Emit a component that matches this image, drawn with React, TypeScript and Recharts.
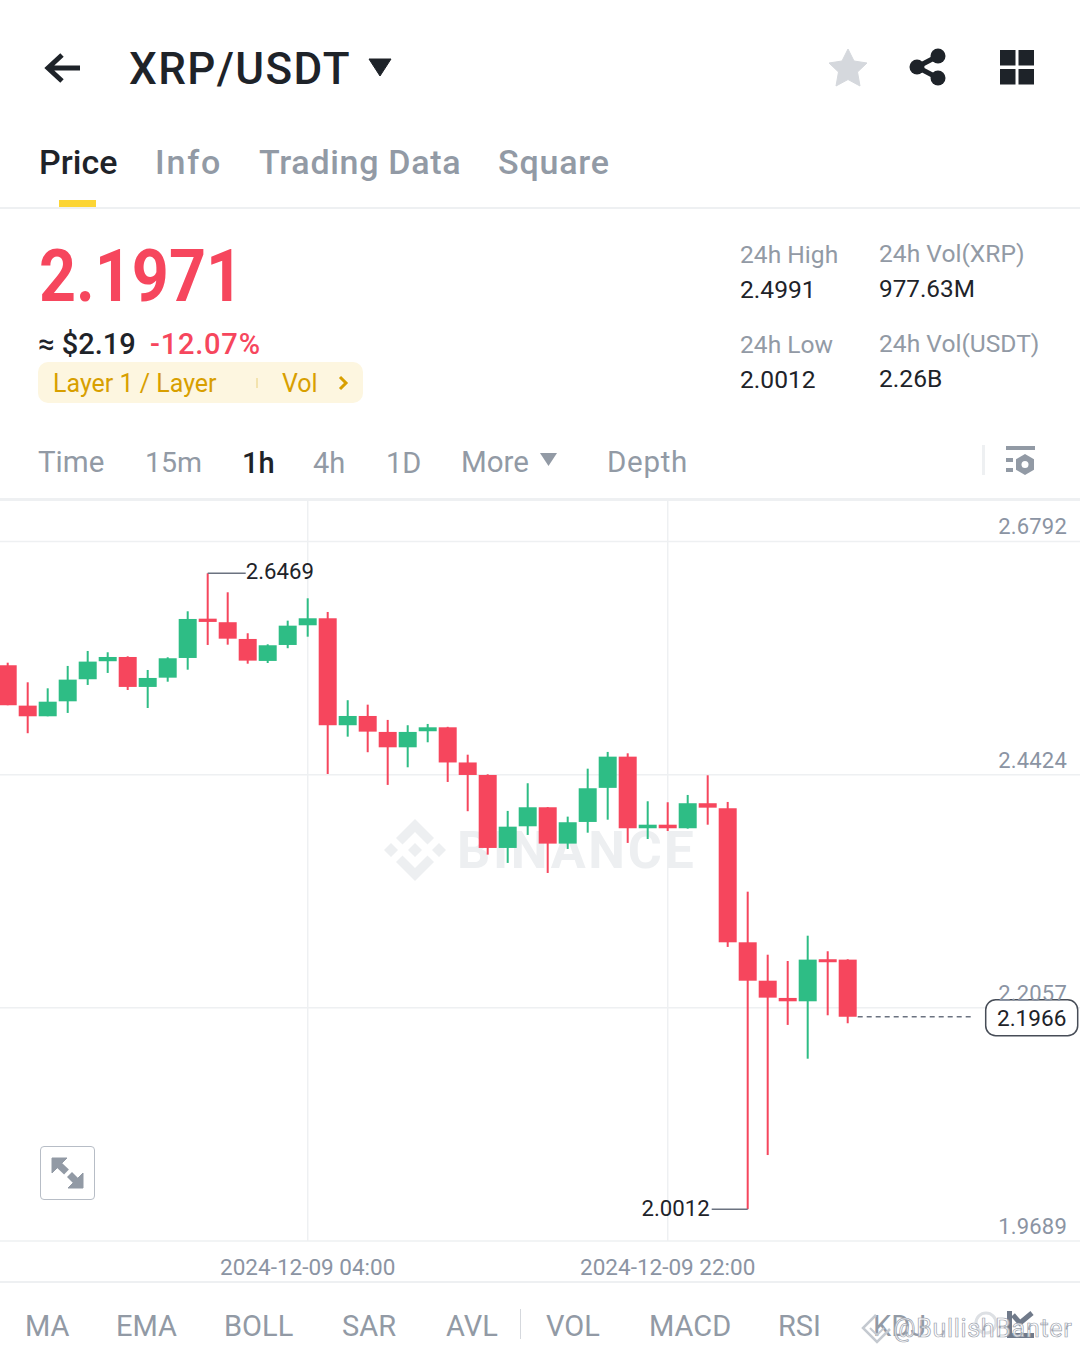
import React from "react";
import {
  ComposedChart,
  Bar,
  XAxis,
  YAxis,
  CartesianGrid,
  ReferenceLine,
  ReferenceDot,
} from "recharts";

// hourly candles
const opens = [
  2.5535, 2.5125, 2.5017, 2.5169, 2.5393, 2.5576, 2.5619, 2.5315, 2.5409, 2.5609, 2.6008,
  2.5972, 2.5802, 2.5579, 2.5741, 2.5941, 2.6012, 2.4926, 2.502, 2.4858, 2.4702, 2.4865,
  2.4905, 2.4548, 2.4421, 2.368, 2.39, 2.4093, 2.3724, 2.3944, 2.429, 2.4607, 2.388,
  2.3916, 2.388, 2.4134, 2.4083, 2.2722, 2.2332, 2.2157, 2.2123, 2.255, 2.2546,
];
const closes = [
  2.5129, 2.5017, 2.5165, 2.5389, 2.5572, 2.5619, 2.5315, 2.5406, 2.5606, 2.6005, 2.5975,
  2.5805, 2.5582, 2.5738, 2.5937, 2.6012, 2.4926, 2.502, 2.4861, 2.4702, 2.4858, 2.4905,
  2.4548, 2.4421, 2.368, 2.3896, 2.4093, 2.3724, 2.3941, 2.4286, 2.4607, 2.388, 2.3916,
  2.388, 2.4134, 2.4089, 2.2722, 2.2332, 2.216, 2.2123, 2.2546, 2.2522, 2.1966,
];
const highs = [
  2.5561, 2.5362, 2.5301, 2.5528, 2.568, 2.5667, 2.5626, 2.5487, 2.5616, 2.6083, 2.6469,
  2.6276, 2.586, 2.5748, 2.5988, 2.6215, 2.6076, 2.518, 2.5135, 2.498, 2.4926, 2.4939,
  2.491, 2.4627, 2.4428, 2.4056, 2.4337, 2.4095, 2.3998, 2.4485, 2.4655, 2.4641, 2.4154,
  2.4144, 2.4218, 2.4418, 2.4147, 2.3236, 2.2596, 2.2532, 2.2789, 2.2631, 2.255,
];
const lows = [
  2.5129, 2.4845, 2.5017, 2.5051, 2.5335, 2.5457, 2.5284, 2.5101, 2.5368, 2.549, 2.5741,
  2.5744, 2.5551, 2.5558, 2.5708, 2.5825, 2.4431, 2.481, 2.4652, 2.432, 2.4499, 2.4753,
  2.435, 2.4053, 2.3612, 2.3528, 2.3812, 2.3426, 2.367, 2.3835, 2.3967, 2.3731, 2.3771,
  2.3852, 2.3876, 2.3916, 2.2675, 2.0012, 2.0562, 2.1883, 2.154, 2.1981, 2.19,
];
const priceTicks = [1.9689, 2.2057, 2.4424, 2.6792];
const timeTicks = [15, 33];
const timeLabels: Record<number, string> = {
  15: "2024-12-09 04:00",
  33: "2024-12-09 22:00",
};
const indicators = [
  ["MA", 25],
  ["EMA", 116],
  ["BOLL", 224],
  ["SAR", 342],
  ["AVL", 446],
  ["VOL", 546],
  ["MACD", 649],
  ["RSI", 778],
  ["KDJ", 873],
] as const;

const HIGH_VALUE = 2.6469;
const LOW_VALUE = 2.0012;
const LAST_VALUE = 2.1966;

const candles = opens.map((open, i) => ({
  index: i,
  open,
  close: closes[i],
  high: highs[i],
  low: lows[i],
  range: [lows[i], highs[i]],
}));

const UP = "#2EBD85";
const DOWN = "#F6465D";
const DARK = "#1E2329";
const GRAY = "#929AA5";
const AXIS_GRAY = "#8B94A3";
const LINE = "#EEF0F2";
const FONT = "Roboto, sans-serif";

const Candle = (props: any) => {
  const { x, y, width, height, payload } = props;
  const top = Math.min(y, y + height);
  const h = Math.abs(height);
  const perUnit = h / (payload.high - payload.low);
  const color = payload.close >= payload.open ? UP : DOWN;
  const bodyTop = top + (payload.high - Math.max(payload.open, payload.close)) * perUnit;
  const bodyH = Math.max(Math.abs(payload.open - payload.close) * perUnit, 3);
  return (
    <g>
      <rect x={x + width / 2 - 1} y={top} width={2} height={h} fill={color} />
      <rect x={x} y={bodyTop} width={width} height={bodyH} fill={color} />
    </g>
  );
};

const PriceTick = (props: any) => (
  <text
    x={1067}
    y={props.y - 7}
    textAnchor="end"
    fontSize={22}
    fontFamily={FONT}
    fill={AXIS_GRAY}
    letterSpacing={0.2}
  >
    {props.payload.value}
  </text>
);

const TimeTick = (props: any) => (
  <text
    x={props.x}
    y={props.y + 26}
    textAnchor="middle"
    fontSize={22.5}
    fontFamily={FONT}
    fill={AXIS_GRAY}
  >
    {timeLabels[props.payload.value]}
  </text>
);

const Txt = ({ x, y, size, color = GRAY, weight = 400, spacing = 0, stretch = 1, children }: any) => (
  <div
    style={{
      position: "absolute",
      left: x,
      top: y,
      transform: `translateY(-50%) scaleX(${stretch})`,
      transformOrigin: "left center",
      fontSize: size,
      color,
      fontWeight: weight,
      letterSpacing: spacing,
      lineHeight: 1,
      whiteSpace: "nowrap",
    }}
  >
    {children}
  </div>
);

const Icon = ({ x, y, w, h, children }: any) => (
  <svg
    width={w}
    height={h}
    viewBox={`0 0 ${w} ${h}`}
    style={{ position: "absolute", left: x, top: y, overflow: "visible" }}
  >
    {children}
  </svg>
);

const Rule = ({ y, h = 2, color = LINE }: any) => (
  <div style={{ position: "absolute", left: 0, top: y, width: 1080, height: h, background: color }} />
);

const LastPriceBox = (props: any) => {
  const { cx, cy } = props;
  return (
    <g>
      <rect x={cx - 46} y={cy - 17} width={92} height={36} rx={10} fill="#fff" stroke="#474D57" strokeWidth={1.5} />
      <text x={cx} y={cy + 9.5} textAnchor="middle" fontSize={22.6} fontFamily={FONT} fill={DARK}>
        {LAST_VALUE}
      </text>
    </g>
  );
};

export default function App() {
  return (
    <div
      style={{
        position: "absolute",
        left: 0,
        top: 0,
        width: 1080,
        height: 1352,
        overflow: "hidden",
        background: "#fff",
        fontFamily: FONT,
      }}
    >
      {/* top bar */}
      <Icon x={44} y={52} w={38} h={30}>
        <path d="M36 16H5M18 3L4 16l14 13" fill="none" stroke={DARK} strokeWidth={5} />
      </Icon>
      <Txt x={129} y={69} size={44} color={DARK} weight={500} spacing={1.4}>XRP/USDT</Txt>
      <Icon x={368} y={57} w={24} h={20}>
        <path d="M1 2h22L12 19z" fill={DARK} stroke={DARK} strokeWidth={1} strokeLinejoin="round" />
      </Icon>
      <Icon x={828} y={48} w={40} h={40}>
        <path d="M20 1l6 12 13 2-9.5 9 2.5 14-12-6.5-12 6.5 2.5-14L1 15l13-2z" fill="#D5D8DD" stroke="#D5D8DD" strokeLinejoin="round" />
      </Icon>
      <Icon x={908} y={47} w={40} h={40}>
        <path d="M30 9L9 20l21 11" fill="none" stroke={DARK} strokeWidth={5} />
        <circle cx={30} cy={9} r={7.5} fill={DARK} />
        <circle cx={9} cy={20} r={7.5} fill={DARK} />
        <circle cx={30} cy={31} r={7.5} fill={DARK} />
      </Icon>
      <Icon x={1000} y={50} w={35} h={35}>
        <rect x={0} y={0} width={15.5} height={15.5} fill={DARK} />
        <rect x={18.5} y={0} width={15.5} height={15.5} fill={DARK} />
        <rect x={0} y={19} width={15.5} height={15.5} fill={DARK} />
        <rect x={18.5} y={19} width={15.5} height={15.5} fill={DARK} />
      </Icon>

      {/* tabs */}
      <Txt x={39} y={162} size={34} color={DARK} weight={500}>Price</Txt>
      <Txt x={155} y={162} size={34} weight={500} spacing={1.8}>Info</Txt>
      <Txt x={259} y={162} size={34} weight={500} spacing={0.7}>Trading Data</Txt>
      <Txt x={498} y={162} size={34} weight={500} spacing={0.8}>Square</Txt>
      <div style={{ position: "absolute", left: 59, top: 200, width: 37, height: 8, background: "#FCD535" }} />
      <Rule y={207} />

      {/* price block */}
      <Txt x={39} y={276} size={73} color={DOWN} weight={700} stretch={0.885}>2.1971</Txt>
      <Txt x={38} y={344} size={29} color={DARK} weight={500}>≈ $2.19</Txt>
      <Txt x={150} y={344} size={29} color={DOWN} weight={500} spacing={0.8}>-12.07%</Txt>
      <div style={{ position: "absolute", left: 38, top: 362, width: 325, height: 41, borderRadius: 10, background: "#FDF6E0" }} />
      <Txt x={53} y={383} size={25} color="#D89F00">Layer 1 / Layer</Txt>
      <div style={{ position: "absolute", left: 256, top: 378, width: 2, height: 10, background: "#F3E3AE" }} />
      <Txt x={282} y={383} size={25} color="#D89F00">Vol</Txt>
      <Icon x={337} y={375} w={12} h={16}>
        <path d="M3 2l6 6-6 6" fill="none" stroke="#D89F00" strokeWidth={3} />
      </Icon>

      <Txt x={740} y={255} size={24.6}>24h High</Txt>
      <Txt x={740} y={290} size={24.6} color={DARK}>2.4991</Txt>
      <Txt x={879} y={254} size={24.6}>24h Vol(XRP)</Txt>
      <Txt x={879} y={289} size={24.3} color={DARK}>977.63M</Txt>
      <Txt x={740} y={345} size={24.6}>24h Low</Txt>
      <Txt x={740} y={380} size={24.6} color={DARK}>2.0012</Txt>
      <Txt x={879} y={344} size={24.6}>24h Vol(USDT)</Txt>
      <Txt x={879} y={379} size={24.6} color={DARK}>2.26B</Txt>

      {/* intervals */}
      <Txt x={38} y={463} size={29.5}>Time</Txt>
      <Txt x={145} y={463} size={28.5}>15m</Txt>
      <Txt x={242} y={463} size={29} color={DARK} weight={500}>1h</Txt>
      <Txt x={313} y={463} size={29}>4h</Txt>
      <Txt x={386} y={463} size={29}>1D</Txt>
      <Txt x={461} y={463} size={29.5}>More</Txt>
      <Icon x={540} y={453} w={17} h={13}>
        <path d="M0 0h17L8.5 13z" fill={GRAY} />
      </Icon>
      <Txt x={607} y={463} size={29.5} spacing={0.7}>Depth</Txt>
      <div style={{ position: "absolute", left: 982, top: 445, width: 3, height: 30, background: LINE }} />
      <Icon x={1005} y={445} w={30} h={30}>
        <rect x={1} y={1} width={29} height={4} fill={GRAY} />
        <rect x={1} y={13} width={7} height={4} fill={GRAY} />
        <rect x={1} y={23} width={7} height={4} fill={GRAY} />
        <path d="M20 9l9 5.2v10.6l-9 5.2-9-5.2V14.2z" fill={GRAY} />
        <circle cx={20} cy={19.5} r={3.5} fill="#fff" />
      </Icon>
      <Rule y={498} h={3} />

      {/* watermark behind the candles */}
      <Icon x={384} y={819} w={62} h={62}>
        <path
          d="M31 0l19 19-6.5 6.5L31 13 18.5 25.5 12 19zM31 62L12 43l6.5-6.5L31 49l12.5-12.5L50 43zM31 24l7 7-7 7-7-7zM7 24l7 7-7 7-7-7zM55 24l7 7-7 7-7-7z"
          fill="#EDEFF1"
        />
      </Icon>
      <Txt x={457} y={851} size={52} color="#EDEFF1" weight={700} spacing={2.7}>BINANCE</Txt>

      <div style={{ position: "absolute", left: 0, top: 0 }}>
        <ComposedChart
          width={1080}
          height={1352}
          data={candles}
          margin={{ top: 500, right: 0, bottom: 70, left: 0 }}
        >
          <CartesianGrid stroke={LINE} strokeWidth={1.5} horizontalValues={priceTicks} verticalValues={timeTicks} />
          <XAxis
            dataKey="index"
            type="number"
            domain={[-0.385, 53.615]}
            ticks={timeTicks}
            height={41}
            axisLine={false}
            tickLine={false}
            tick={<TimeTick />}
            allowDataOverflow
          />
          <YAxis
            orientation="right"
            mirror
            width={80}
            interval={0}
            domain={[1.9689, 2.7213]}
            ticks={priceTicks}
            axisLine={false}
            tickLine={false}
            tick={<PriceTick />}
            allowDataOverflow
          />
          <Bar dataKey="range" barSize={18} shape={<Candle />} isAnimationActive={false} />
          <ReferenceLine
            segment={[
              { x: 10, y: HIGH_VALUE },
              { x: 11.9, y: HIGH_VALUE },
            ]}
            stroke="#6B7280"
            strokeWidth={1.5}
            label={{ value: HIGH_VALUE, position: "right", offset: 0, dy: -2, fontSize: 22.2, fill: DARK, fontFamily: FONT }}
          />
          <ReferenceLine
            segment={[
              { x: 35.2, y: LOW_VALUE },
              { x: 37, y: LOW_VALUE },
            ]}
            stroke="#6B7280"
            strokeWidth={1.5}
            label={{ value: LOW_VALUE, position: "left", offset: 2, dy: -1, fontSize: 22.2, fill: DARK, fontFamily: FONT }}
          />
          <ReferenceLine
            segment={[
              { x: 42.5, y: LAST_VALUE },
              { x: 48.25, y: LAST_VALUE },
            ]}
            stroke="#6B7280"
            strokeWidth={1.5}
            strokeDasharray="5 4"
          />
          <ReferenceDot x={51.2} y={LAST_VALUE} r={1} shape={<LastPriceBox />} ifOverflow="visible" />
        </ComposedChart>
      </div>

      {/* expand button */}
      <div style={{ position: "absolute", left: 40, top: 1146, width: 53, height: 52, border: "1.5px solid #B7BDC6", borderRadius: 4 }} />
      <Icon x={51} y={1157} w={33} h={33}>
        <path d="M1 1h15L1 16zM6 6l9 9" fill="#929AA5" stroke="#929AA5" strokeWidth={1} />
        <path d="M7 7l8.5 8" stroke="#929AA5" strokeWidth={7} />
        <path d="M32 31H17l15-15z" fill="#929AA5" stroke="#929AA5" strokeWidth={1} />
        <path d="M26 25l-7.5-7.5" stroke="#929AA5" strokeWidth={7} />
      </Icon>

      {/* indicator strip */}
      <Rule y={1281} />
      {indicators.map(([name, x]) => (
        <Txt key={name} x={x} y={1326} size={29}>{name}</Txt>
      ))}
      <div style={{ position: "absolute", left: 520, top: 1309, width: 1, height: 30, background: "#D5D8DD" }} />
      <Icon x={974} y={1311} w={24} h={24}>
        <circle cx={12} cy={12} r={10} fill="none" stroke="#DDE0E4" strokeWidth={3} />
      </Icon>
      <Icon x={1005} y={1311} w={30} h={28}>
        <path d="M4.5 0v24.500H29" fill="none" stroke="#707A8A" strokeWidth={5} />
        <path d="M8 4l7 8 12-10" fill="none" stroke="#707A8A" strokeWidth={5} />
      </Icon>

      {/* repost watermark */}
      <Icon x={862} y={1314} w={30} h={30}>
        <path d="M14 1L1 14l14 14 13-13" fill="none" stroke="#C4C9D0" strokeWidth={2.5} />
        <path d="M8 14l7 7 7-7" fill="none" stroke="#C4C9D0" strokeWidth={2} />
      </Icon>
      <div
        style={{
          position: "absolute",
          left: 893,
          top: 1328,
          transform: "translateY(-50%)",
          fontSize: 25,
          lineHeight: 1,
          whiteSpace: "nowrap",
          color: "rgba(255,255,255,0.75)",
          WebkitTextStroke: "0.7px #9AA1AC",
          letterSpacing: 0.7,
        }}
      >
        @BullishBanter
      </div>
    </div>
  );
}
